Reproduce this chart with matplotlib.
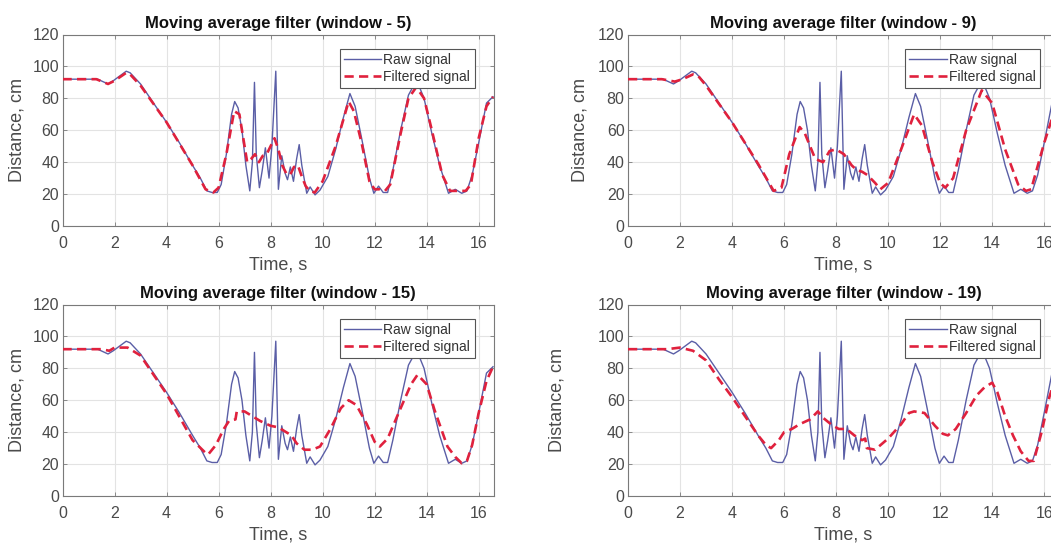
import matplotlib
matplotlib.use("Agg")
import matplotlib.pyplot as plt

plt.rcParams['font.family'] = ['Liberation Sans', 'DejaVu Sans']

# ---------------- data ----------------
t_raw = [0, 1.2, 1.35, 1.55, 1.75, 1.95, 2.2, 2.45, 2.6, 3.0, 3.5, 4.0, 4.5, 5.0, 5.3,
         5.55, 5.75, 5.95, 6.1, 6.3, 6.5, 6.62, 6.75, 6.9, 7.05, 7.2, 7.3, 7.38, 7.45,
         7.57, 7.68, 7.8, 7.94, 8.05, 8.2, 8.3, 8.43, 8.56, 8.65, 8.76, 8.88, 9.0, 9.1,
         9.2, 9.39, 9.52, 9.71, 9.9, 10.2, 10.5, 10.8, 11.05, 11.25, 11.5, 11.8, 11.97,
         12.15, 12.33, 12.5, 12.7, 13.0, 13.3, 13.5, 13.7, 13.9, 14.2, 14.5, 14.84,
         15.1, 15.35, 15.55, 15.75, 16.0, 16.3, 16.55]
raw = [92, 92, 92, 90.5, 89, 91, 94, 97, 96, 89, 77, 65, 52, 38, 30,
       22, 21, 21, 26, 45, 70, 78, 74, 60, 38, 22, 40, 90, 45,
       24, 35, 49, 30, 50, 97, 23, 44, 33, 29, 37, 28, 42, 51,
       38, 20.5, 24.5, 19.5, 22.5, 31, 48, 68, 83, 75, 55, 30, 20.5,
       25, 21, 21, 35, 60, 82, 88, 88, 80, 58, 38, 20.5,
       23, 20.5, 22, 32, 52, 77, 81]

t_w5 = [0, 1.3, 1.75, 2.0, 2.45, 2.6, 3.0, 4.0, 5.0, 5.5, 5.8, 6.0, 6.3, 6.6, 6.8,
        7.0, 7.1, 7.25, 7.4, 7.55, 7.7, 7.85, 8.0, 8.15, 8.3, 8.45, 8.6, 8.75, 8.9,
        9.05, 9.2, 9.35, 9.5, 9.7, 10.0, 10.5, 11.0, 11.2, 11.5, 11.8, 12.0, 12.2,
        12.4, 12.6, 13.0, 13.3, 13.6, 13.9, 14.2, 14.6, 14.9, 15.2, 15.5, 15.7, 16.0,
        16.3, 16.55]
f_w5 = [92, 92, 89, 91, 96, 95, 88, 65, 38, 23, 21, 24, 45, 72, 70,
        50, 40, 42, 45, 40, 44, 45, 50, 55, 48, 38, 33, 32, 37,
        38, 31, 25, 22, 21, 28, 50, 78, 72, 52, 28, 23, 23,
        22, 26, 58, 80, 87, 80, 60, 32, 22, 22, 22, 26, 55,
        75, 81]

t_w9 = [0, 1.3, 1.8, 2.1, 2.5, 2.7, 3.0, 4.0, 5.0, 5.6, 5.9, 6.2, 6.6, 6.8, 7.0,
        7.2, 7.5, 7.75, 8.0, 8.3, 8.6, 8.8, 9.0, 9.2, 9.5, 9.7, 10.0, 10.5, 11.0,
        11.3, 11.7, 12.0, 12.2, 12.5, 13.0, 13.6, 14.0, 14.5, 15.0, 15.3, 15.5,
        16.0, 16.55]
f_w9 = [92, 92, 90.5, 92, 95, 94, 88, 65, 39, 22, 24, 45, 62, 58, 50,
        42, 40, 47, 48, 45, 38, 35, 34, 32, 27, 23, 27, 48, 70,
        63, 40, 27, 24, 30, 60, 85, 77, 48, 26, 22, 23,
        52, 80]

t_w15 = [0, 1.5, 1.8, 2.0, 2.5, 3.0, 4.0, 5.0, 5.5, 5.6, 5.9, 6.2, 6.4, 6.65, 6.7,
         7.0, 7.3, 7.6, 8.0, 8.3, 8.6, 8.8, 9.0, 9.3, 9.6, 9.9, 10.3, 10.7, 11.0,
         11.3, 11.7, 12.0, 12.2, 12.5, 13.0, 13.4, 13.65, 14.0, 14.3, 14.8, 15.1,
         15.35, 15.55, 15.75, 16.0, 16.3, 16.55]
f_w15 = [92, 92, 91, 93, 93, 88, 64, 35, 27, 26, 32, 42, 47, 48, 53,
         53, 50, 47, 44, 43, 40, 38, 33, 29, 29, 31, 42, 55, 60,
         57, 45, 34, 31, 36, 55, 70, 76, 70, 54, 31, 24.5,
         20.5, 22, 32, 52, 72, 81]

t_w19 = [0, 1.5, 2.0, 2.5, 3.0, 3.5, 4.0, 4.5, 5.0, 5.3, 5.5, 5.8, 6.0, 6.3, 6.6,
         7.0, 7.3, 7.5, 7.8, 8.1, 8.4, 8.7, 9.0, 9.12, 9.18, 9.5, 10.0, 10.5, 10.8,
         11.0, 11.4, 11.8, 12.1, 12.3, 12.6, 13.0, 13.4, 13.7, 14.0, 14.2, 14.5,
         14.8, 15.1, 15.4, 15.6, 15.9, 16.2, 16.55]
f_w19 = [92, 92, 93, 91, 85, 73, 62, 50, 38, 32, 30, 35, 40, 42, 45,
         48, 53, 49, 45, 42, 42, 38, 35, 36, 30, 29, 36, 45, 52,
         53, 52, 44, 39, 38, 42, 52, 63, 68, 71, 65, 50,
         38, 28, 22, 22, 40, 62, 80]

windows = [5, 9, 15, 19]
filtered_t = [t_w5, t_w9, t_w15, t_w19]
filtered_v = [f_w5, f_w9, f_w15, f_w19]
x_ticks = list(range(0, 17, 2))
y_ticks = list(range(0, 121, 20))

# ---------------- figure ----------------
W, H = 1051, 546
fig = plt.figure(figsize=(W / 100, H / 100), dpi=100)
fig.patch.set_facecolor('white')

# (left_px, top_px, width_px, height_px, ylabel_center_px)
boxes = [(62.5, 34.5, 431, 191.5, 17),
         (628, 34.5, 431, 191.5, 580),
         (62.5, 304.5, 431, 191.5, 17),
         (628, 304.5, 431, 191.5, 557)]

raw_color = '#5a5ea6'
filt_color = '#e0213d'
tick_color = '#4a4a4a'
spine_color = '#7a7a7a'

for i, (lp, tp, wp, hp, ylc) in enumerate(boxes):
    ax = fig.add_axes([lp / W, 1 - (tp + hp) / H, wp / W, hp / H])
    ax.plot(t_raw, raw, color=raw_color, lw=1.0, label='Raw signal', zorder=3)
    ax.plot(filtered_t[i], filtered_v[i], color=filt_color, lw=1.9,
            dashes=(3.5, 2.0), label='Filtered signal', zorder=4)
    ax.set_xlim(0, 16.57)
    ax.set_ylim(0, 120)
    ax.set_xticks(x_ticks)
    ax.set_yticks(y_ticks)
    ax.grid(True, color='#e3e3e3', lw=0.8, zorder=0)
    ax.set_axisbelow(True)
    for s in ax.spines.values():
        s.set_color(spine_color)
        s.set_linewidth(0.8)
    ax.tick_params(axis='both', direction='in', length=3, width=0.6,
                   color=spine_color, labelcolor=tick_color,
                   labelsize=11.5, top=True, right=True)
    ax.tick_params(axis='x', pad=7)
    ax.tick_params(axis='y', pad=2.5)
    ax.set_title(f'Moving average filter (window - {windows[i]})',
                 fontsize=12, fontweight='bold', pad=5, color='#111111')
    ax.set_xlabel('Time, s', fontsize=13, color=tick_color, labelpad=4)
    ax.set_ylabel('Distance, cm', fontsize=13, color=tick_color)
    # place ylabel visually centred at ylc pixel
    ax.yaxis.set_label_coords((ylc - lp) / wp, 0.5)
    ax.yaxis.label.set_verticalalignment('center')
    leg = ax.legend(loc='upper right', bbox_to_anchor=(1 - 19 / wp, 1 - 14.5 / hp),
                    fontsize=10, frameon=True, fancybox=False, framealpha=1,
                    edgecolor='#555555', handlelength=2.7, handletextpad=0.15,
                    borderpad=0.3, labelspacing=0.2, borderaxespad=0)
    leg.get_frame().set_linewidth(0.8)
    for txt in leg.get_texts():
        txt.set_color('#333333')

fig.savefig('out.png', dpi=100, facecolor='white')
